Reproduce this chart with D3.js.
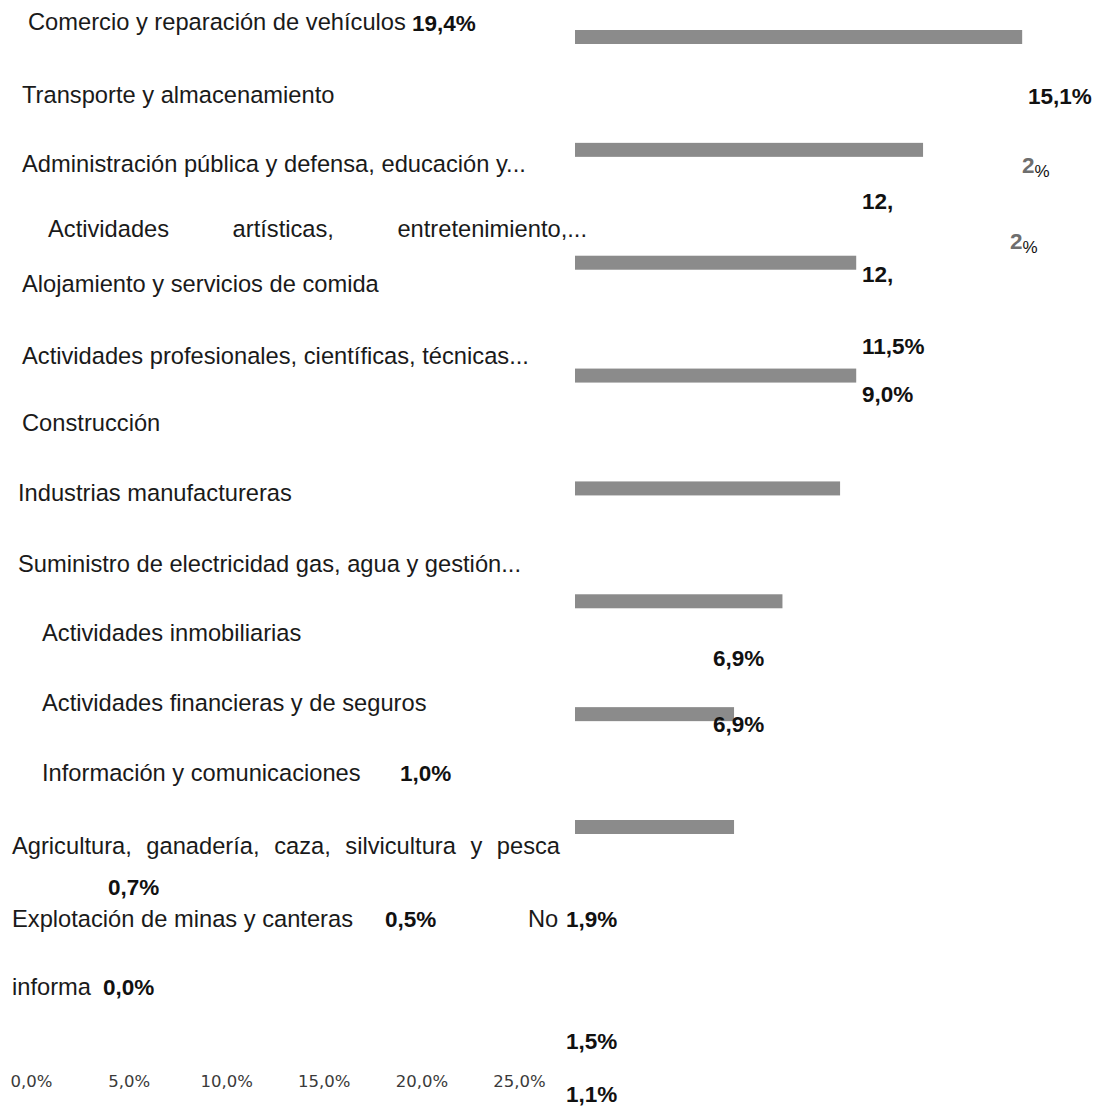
<!DOCTYPE html>
<html><head><meta charset="utf-8">
<script src="https://cdn.jsdelivr.net/npm/d3@7"></script>
<style>html,body{margin:0;padding:0;background:#fff}</style>
</head><body><svg id="c" width="1096" height="1107"></svg>
<script>
// ---- data ----
const categories = [
  "Comercio y reparación de vehículos",
  "Transporte y almacenamiento",
  "Administración pública y defensa, educación y...",
  "Actividades artísticas, entretenimiento,...",
  "Alojamiento y servicios de comida",
  "Actividades profesionales, científicas, técnicas...",
  "Construcción",
  "Industrias manufactureras",
  "Suministro de electricidad gas, agua y gestión...",
  "Actividades inmobiliarias",
  "Actividades financieras y de seguros",
  "Información y comunicaciones",
  "Agricultura, ganadería, caza, silvicultura y pesca",
  "Explotación de minas y canteras",
  "No informa"
];
const values = [19.4, 15.1, 12.2, 12.2, 11.5, 9.0, 6.9, 6.9, 1.9, 1.5, 1.1, 1.0, 0.7, 0.5, 0.0];
const tickValues = [0, 5, 10, 15, 20, 25];

// ---- layout (scanned page positions) ----
const svg = d3.select("#c");
const fmt = v => d3.format(".1f")(v).replace(".", ",") + "%";
const LABEL_FONT = "'Liberation Sans', Arial, sans-serif";
const VAL_FONT = "'Liberation Sans', Arial, sans-serif";

// category label placement: [x, baseline, justifyEnd or null]
const catPos = [
  [28, 30], [22, 103], [22, 172], [48, 237, 587], [22, 292], [22, 364], [22, 431],
  [18, 501], [18, 572], [42, 641], [42, 711], [42, 781], [12, 854, 560], [12, 927]
];

function justify(g, text, x0, x1, y) {
  const words = text.split(" ");
  const nodes = words.map(w => g.append("text").attr("y", y).text(w));
  const widths = nodes.map(n => n.node().getComputedTextLength());
  const gap = (x1 - x0 - d3.sum(widths)) / (words.length - 1);
  let xx = x0;
  nodes.forEach((n, i) => { n.attr("x", xx); xx += widths[i] + gap; });
}

const labels = svg.append("g")
  .style("font-family", LABEL_FONT).style("font-size", "23.7px").attr("fill", "#1a1a1a");
catPos.forEach((p, i) => {
  if (p[2]) justify(labels, categories[i], p[0], p[2], p[1]);
  else labels.append("text").attr("x", p[0]).attr("y", p[1]).text(categories[i]);
});
// last category split across two lines in the scan
const noInf = categories[14].split(" ");
labels.append("text").attr("x", 528).attr("y", 927).text(noInf[0]);
labels.append("text").attr("x", 12).attr("y", 995).text(noInf[1]);

// ---- bars ----
const barCats = categories.slice(0, 8);
const x = d3.scaleLinear().domain([0, 20]).range([575, 1036]);
const y = d3.scalePoint().domain(barCats).range([37, 827]);
svg.append("g").selectAll("rect").data(barCats).join("rect")
  .attr("x", x(0))
  .attr("y", d => y(d) - 7)
  .attr("width", d => x(values[categories.indexOf(d)]) - x(0))
  .attr("height", 14)
  .attr("fill", "#8b8b8b");

// ---- value labels ----
const vg = svg.append("g").style("font-family", VAL_FONT).style("font-weight", "bold")
  .style("font-size", "22.5px").attr("fill", "#111");
// [value index, x, baseline]
const valPos = [
  [0, 412, 31], [1, 1028, 104], [5, 862, 402], [4, 862, 354],
  [6, 713, 666], [7, 713, 732], [8, 566, 927], [9, 566, 1049], [10, 566, 1102],
  [11, 400, 781], [12, 108, 895], [13, 385, 927], [14, 103, 995]
];
valPos.forEach(([i, px, py]) => vg.append("text").attr("x", px).attr("y", py).text(fmt(values[i])));
// 12,2% labels split into fragments in the scan
[[2, 862, 209, 1022, 173], [3, 862, 282, 1010, 249]].forEach(([i, ax0, ay0, bx0, by0]) => {
  const s = fmt(values[i]);
  const k = s.indexOf(",") + 1;
  vg.append("text").attr("x", ax0).attr("y", ay0).text(s.slice(0, k));
  const t = vg.append("text").attr("x", bx0).attr("y", by0);
  t.append("tspan").attr("fill", "#6e6e6e").text(s.slice(k, -1));
  t.append("tspan").style("font-size", "17px").style("font-weight", "normal").attr("dy", 4).text("%");
});

// ---- axis ----
const axScale = d3.scaleLinear().domain([0, 25]).range([31, 519]);
const axisG = svg.append("g").attr("transform", "translate(0,1087)");
axisG.call(d3.axisBottom(axScale).tickValues(tickValues).tickSize(0).tickPadding(0)
    .tickFormat(v => d3.format(".1f")(v).replace(".", ",") + "%"));
axisG.select(".domain").remove();
axisG.selectAll(".tick text").attr("dy", 0)
  .style("font-family", "'DejaVu Sans', sans-serif")
  .style("font-size", "16.5px").attr("fill", "#3a3a3a");
</script></body></html>
